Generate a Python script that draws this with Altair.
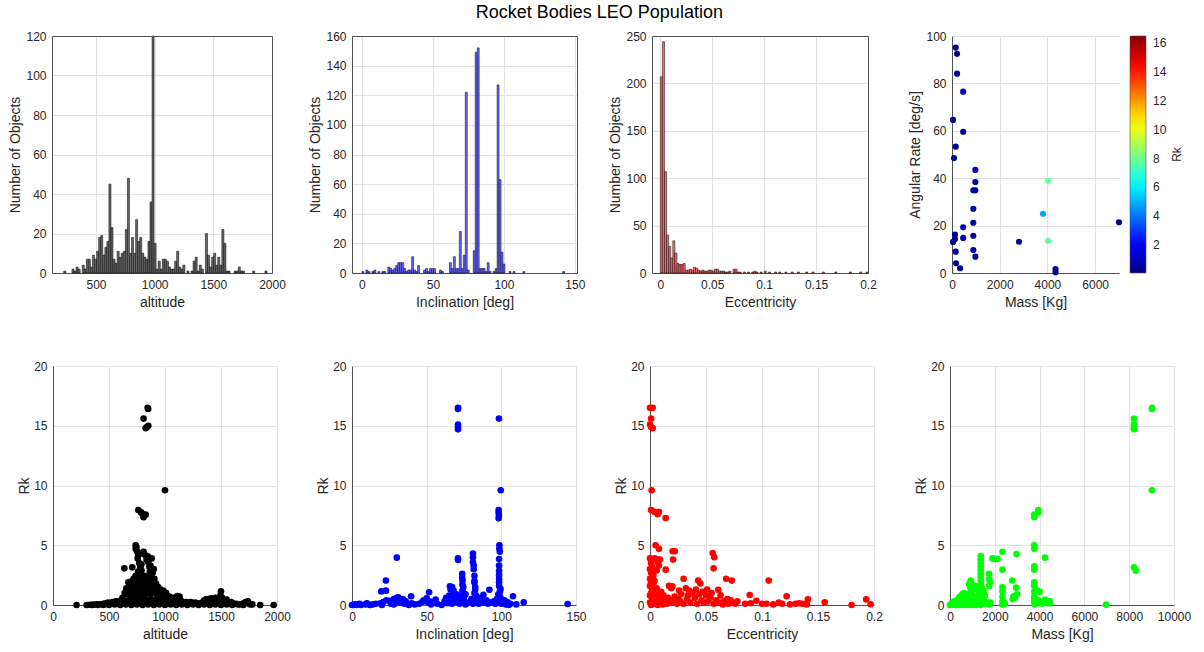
import altair as alt
import pandas as pd

FONT = "Liberation Sans"
TXT = "#262626"
GRID = "#e3e3e3"
AXC = "#505050"

TITLE = "Rocket Bodies LEO Population"

# ---------------- histogram data (bin structure + counts) ----
ALT_FIRST_EDGE = 225.0
ALT_BIN_WIDTH = 17.5
ALT_COUNTS = [1, 0, 0, 0, 2, 1, 3, 2, 0, 4, 2, 7, 7, 3, 9, 7, 11, 18, 19, 9,
              13, 16, 45, 23, 7, 5, 11, 8, 10, 11, 22, 48, 10, 18, 10, 27, 16, 18, 10, 8,
              7, 16, 36, 120, 15, 2, 6, 2, 7, 7, 6, 3, 2, 2, 6, 11, 3, 2, 4, 0,
              1, 0, 1, 6, 8, 1, 4, 2, 0, 20, 9, 3, 8, 10, 4, 8, 4, 22, 15, 1,
              1, 0, 0, 1, 1, 3, 1, 1, 0, 0, 0, 0, 1, 0, 0, 0, 0, 0, 1]

INC_FIRST_EDGE = 0.0
INC_BIN_WIDTH = 1.4
INC_COUNTS = [1, 0, 2, 1, 0, 1, 2, 0, 1, 0, 1, 1, 0,
              4, 3, 2, 3, 5, 7, 7, 7, 3, 1, 2, 2, 11, 2, 1, 5, 0, 0, 2, 3, 1, 3, 3, 3, 0, 0, 2, 1, 0, 0, 0,
              7, 3, 11, 3, 3, 28, 3, 12, 122, 2, 0, 0, 15, 149, 152, 3, 3, 3, 1, 7, 1, 0, 1, 3,
              127, 63, 14, 6, 0, 0, 1, 0, 1,
              0, 0, 0, 0, 1, 0, 0, 0, 0, 0, 0, 0, 0, 0, 0, 0, 0, 0, 0, 0, 0, 0, 0, 0, 1, 0, 0, 0, 0, 0, 0]

ECC_FIRST_EDGE = 0.0
ECC_BIN_WIDTH = 0.002
ECC_COUNTS = [207, 244, 107, 40, 28, 16, 34, 21, 10, 9, 9, 10, 3, 3, 4, 3, 6, 5, 3, 2,
              3, 2, 2, 3, 3, 2, 4, 4, 2, 2, 2, 1, 1, 2, 0, 4, 4, 1, 1, 0,
              1, 0, 1, 0, 1, 2, 1, 0, 1, 0, 2, 0, 1, 0, 0, 1, 0, 1, 0, 0,
              1, 0, 0, 1, 0, 0, 1, 0, 0, 0, 1, 0, 0, 1, 0, 0, 0, 0, 1, 0,
              0, 0, 0, 0, 1, 0, 0, 0, 0, 0, 0, 1, 0, 0, 0, 0, 1, 0, 0, 1]

# ---------------- top-right scatter: mass vs angular rate, colored by Rk ------
MASS_TOP = [157, 213, 213, 468, 43, 468, 157, 85, 979, 979, 894, 979, 894, 894, 468, 128,
            894, 468, 128, 43, 894, 157, 979, 170, 340, 2808, 4028, 4028, 3815, 7000, 4340, 4340]
RATE_TOP = [95.1, 92.5, 84.1, 76.5, 64.6, 59.6, 53.3, 48.5, 43.5, 38.4, 34.9, 34.9, 27.1, 21.2, 19.3, 16.2,
            15.7, 14.8, 14.3, 13.1, 9.7, 9.0, 6.9, 4.1, 2.0, 13.2, 39.0, 13.6, 25.0, 21.4, 1.6, 0.3]
RK_TOP = [0.3, 0.3, 0.3, 1.3, 0.2, 0.6, 0.4, 0.3, 0.9, 0.5, 0.5, 0.5, 0.5, 0.5, 1.0, 0.6,
          0.5, 0.9, 0.4, 0.3, 0.5, 0.4, 0.6, 0.4, 0.5, 0.5, 7.9, 7.8, 4.8, 0.06, 0.3, 0.3]

RK_MIN = 0.06
RK_MAX = 16.5
JET_FRACTIONS = [0.0, 0.125, 0.375, 0.625, 0.875, 1.0]
JET_COLORS = ["#00007f", "#0000ff", "#00ffff", "#ffff00", "#ff0000", "#7f0000"]
RK_TICKS = [2, 4, 6, 8, 10, 12, 14, 16]

# ---------------- bottom row: Rk against each parameter ------------------------
ALT_POINTS = [
    (845, 16.5), (850, 16.4), (809, 15.6), (827, 14.8), (851, 15.0), (838, 14.9), (1000, 9.6),
    (762, 7.95), (786, 7.75), (827, 7.56), (809, 7.34), (800, 7.6),
    (738, 5.0), (738, 4.7), (809, 4.46), (756, 3.9), (845, 4.07), (881, 3.9), (760, 4.2), (770, 3.5), (790, 3.4),
    (745, 4.85), (750, 4.5), (785, 4.3), (820, 4.2), (835, 3.8), (850, 3.6), (860, 3.2), (865, 2.8), (870, 2.5),
    (780, 3.2), (790, 2.9), (760, 2.8), (775, 2.6),
    (637, 3.07), (708, 3.15), (780, 3.0), (899, 3.0), (673, 1.9), (738, 2.45), (818, 2.45), (870, 3.3),
    (890, 2.7), (905, 2.2), (920, 1.8),
    (620, 0.6), (640, 1.0), (655, 1.4), (665, 0.9), (680, 1.2), (690, 1.6), (700, 0.8), (705, 2.0),
    (715, 1.3), (720, 2.2), (730, 1.0), (735, 1.7), (745, 0.7), (750, 1.4), (755, 2.0), (765, 1.1),
    (770, 2.4), (780, 1.6), (785, 0.9), (795, 2.1), (800, 1.3), (810, 1.8), (815, 0.8), (825, 1.5),
    (830, 2.2), (840, 1.0), (850, 1.7), (860, 1.3), (865, 2.0), (875, 0.9), (880, 1.6), (890, 1.2),
    (900, 1.8), (910, 1.0), (920, 1.4), (930, 0.8), (940, 1.5), (950, 1.1), (960, 1.3), (975, 0.9),
    (985, 1.2), (1000, 0.8), (1010, 1.0), (1025, 0.6), (1040, 0.7), (1060, 0.5), (1080, 0.6), (1100, 0.4),
    (1110, 0.75), (1130, 0.7),
    (210, 0.0), (300, 0.0), (330, 0.02), (360, 0.03), (390, 0.05), (420, 0.06), (450, 0.1), (470, 0.15),
    (490, 0.2), (510, 0.1), (530, 0.25), (550, 0.15), (560, 0.3), (580, 0.2), (600, 0.35), (610, 0.1),
    (630, 0.3), (650, 0.2), (670, 0.4), (690, 0.3), (710, 0.45), (730, 0.2), (750, 0.4), (770, 0.3),
    (790, 0.5), (810, 0.2), (830, 0.45), (850, 0.3), (870, 0.5), (890, 0.2), (910, 0.4), (930, 0.3),
    (950, 0.5), (970, 0.2), (990, 0.4), (1010, 0.3), (1030, 0.35), (1050, 0.2), (1070, 0.3), (1090, 0.15),
    (1110, 0.25), (1130, 0.2), (1150, 0.3), (1170, 0.15), (1190, 0.25), (1210, 0.2), (1230, 0.25),
    (1250, 0.15), (1270, 0.2), (1290, 0.1), (1310, 0.15), (1330, 0.2), (1350, 0.4), (1370, 0.5),
    (1390, 0.3), (1410, 0.55), (1430, 0.4), (1450, 0.6), (1460, 0.3), (1480, 0.5), (1495, 0.8),
    (1500, 1.15), (1510, 0.6), (1520, 0.4), (1535, 0.3), (1550, 0.45), (1570, 0.2), (1590, 0.25),
    (1610, 0.15), (1640, 0.1), (1670, 0.05), (1700, 0.15), (1720, 0.25), (1740, 0.3), (1760, 0.05),
    (1780, 0.05), (1850, 0.0), (1970, 0.0),
    (350, 0.0), (400, 0.0), (450, 0.0), (500, 0.0), (550, 0.05), (600, 0.0), (650, 0.05), (700, 0.0),
    (750, 0.05), (800, 0.0), (850, 0.05), (900, 0.0), (950, 0.05), (1000, 0.0), (1050, 0.05), (1100, 0.0),
    (1150, 0.05), (1200, 0.0), (1250, 0.05), (1300, 0.0), (1350, 0.05), (1400, 0.0), (1450, 0.05),
    (1500, 0.0), (1550, 0.05), (1600, 0.0), (1650, 0.05), (1700, 0.0),
]

INC_POINTS = [
    (71, 16.5), (71, 16.4), (71, 15.1), (71, 14.9), (71, 14.7), (98.4, 15.6), (99.6, 9.6),
    (98.2, 7.95), (98.2, 7.75), (98.4, 7.5), (98.2, 7.25), (98.7, 5.0), (98.7, 4.7), (99, 4.46),
    (30, 3.96), (71, 3.9), (71, 3.77),
    (81, 4.3), (81, 4.0), (81, 3.6), (81.5, 3.3), (81.5, 3.0), (82, 2.45), (82, 2.0), (82, 1.9),
    (82.5, 1.5), (82.5, 1.3), (82, 1.0), (83, 0.8),
    (73.8, 2.6), (73.8, 2.3), (74, 2.04), (74, 1.7), (74.5, 1.48), (74, 1.2), (74, 0.9),
    (98.5, 3.85), (98.5, 3.3), (98.5, 2.87), (98.5, 2.5), (98.5, 2.18), (98.5, 1.9), (98.5, 1.6),
    (99.5, 1.34), (99, 1.1), (98, 0.9), (99, 0.7), (100, 0.5),
    (22.7, 2.04), (19.6, 1.14), (22.7, 1.2), (51.6, 1.06), (92, 1.28), (107.8, 0.73), (115, 0.22),
    (144.4, 0.08), (39.6, 0.73), (65.6, 1.56), (65, 0.78), (66, 1.3), (31, 0.64), (28, 0.5), (33, 0.45),
    (88, 0.85), (86, 0.6), (102, 0.4), (104, 0.25), (106, 0.1),
    (0, 0.0), (1, 0.0), (2, 0.05), (3, 0.0), (5, 0.1), (6, 0.0), (9, 0.05), (10, 0.15), (12, 0.0),
    (14, 0.05), (16, 0.1), (19, 0.15), (20, 0.0), (21, 0.25), (23, 0.4), (25, 0.35), (26, 0.1),
    (27, 0.2), (28, 0.05), (29, 0.3), (30, 0.6), (32, 0.2), (34, 0.5), (35, 0.1), (36, 0.3), (38, 0.0),
    (40, 0.15), (42, 0.05), (45, 0.1), (47, 0.25), (48, 0.4), (50, 0.55), (51, 0.2), (52, 0.3),
    (53, 0.05), (55, 0.2), (56, 0.45), (57, 0.1), (60, 0.0), (62, 0.3), (63, 0.6), (64, 0.15),
    (65, 0.4), (67, 0.1), (68, 0.8), (69, 0.5), (70, 0.25), (71, 0.6), (72, 0.1), (73, 0.4), (75, 0.3),
    (76, 0.05), (78, 0.2), (80, 0.5), (81, 0.1), (82, 0.3), (83, 0.5), (84, 0.15), (85, 0.1), (86, 0.3),
    (88, 0.2), (90, 0.4), (91, 0.1), (93, 0.2), (95, 0.3), (96, 0.1), (97, 0.5), (98, 0.2), (99, 0.35),
    (100, 0.1), (101, 0.3), (103, 0.05), (105, 0.0), (110, 0.05),
    (67, 1.5), (68, 1.2), (70, 0.9), (72, 0.7), (76, 0.9), (75, 0.6),
]

ECC_POINTS = [
    (0.0, 16.5), (0.0024, 16.5), (0.001, 15.6), (0.0, 15.1), (0.0024, 14.8), (0.001, 14.9), (0.0015, 9.6),
    (0.001, 7.95), (0.004, 7.8), (0.0068, 7.6), (0.008, 7.8), (0.014, 7.28), (0.005, 5.0), (0.008, 4.7),
    (0.0202, 4.5), (0.0222, 4.5), (0.0206, 3.8),
    (0.056, 4.35), (0.0574, 4.0), (0.0568, 3.07), (0.03, 2.2), (0.043, 2.04), (0.045, 1.8), (0.068, 2.2),
    (0.073, 2.04), (0.106, 2.04), (0.089, 0.84), (0.122, 0.73), (0.141, 0.47), (0.156, 0.22), (0.18, 0.0),
    (0.193, 0.47), (0.197, 0.06), (0.061, 1.28), (0.014, 2.96), (0.02, 1.56),
    (0.0, 3.9), (0.001, 3.5), (0.002, 3.2), (0.003, 3.8), (0.004, 3.9), (0.006, 3.85), (0.007, 3.6),
    (0.008, 3.3), (0.009, 3.8), (0.0, 3.0), (0.001, 2.7), (0.002, 2.4), (0.0, 2.2), (0.001, 1.9),
    (0.003, 2.5), (0.004, 2.0), (0.0, 1.6), (0.002, 1.3), (0.001, 1.0), (0.003, 1.7), (0.0, 0.8),
    (0.004, 1.2), (0.005, 0.9), (0.006, 1.4), (0.002, 0.5), (0.008, 0.7), (0.01, 1.1), (0.011, 0.5),
    (0.012, 0.8), (0.0, 0.2), (0.001, 0.0), (0.003, 0.1), (0.005, 0.3), (0.007, 0.0), (0.009, 0.2),
    (0.011, 0.05), (0.013, 0.3), (0.015, 0.1), (0.016, 0.6), (0.018, 0.4), (0.02, 0.2), (0.022, 0.7),
    (0.024, 0.1), (0.025, 0.5), (0.027, 0.3), (0.028, 0.9), (0.03, 0.1), (0.032, 1.4), (0.033, 0.5),
    (0.035, 1.2), (0.036, 0.2), (0.038, 1.0), (0.04, 0.6), (0.041, 1.3), (0.042, 0.1), (0.044, 0.9),
    (0.046, 0.4), (0.047, 1.1), (0.048, 0.2), (0.05, 0.8), (0.051, 1.3), (0.052, 0.3), (0.054, 0.6),
    (0.055, 1.0), (0.057, 0.1), (0.059, 0.4), (0.062, 0.2), (0.063, 0.8), (0.065, 0.05), (0.066, 0.3),
    (0.069, 0.5), (0.07, 0.1), (0.072, 0.4), (0.074, 0.2), (0.076, 0.1), (0.078, 0.3), (0.085, 0.1),
    (0.09, 0.15), (0.095, 0.35), (0.1, 0.1), (0.104, 0.1), (0.11, 0.05), (0.115, 0.2), (0.118, 0.1),
    (0.125, 0.05), (0.13, 0.1), (0.133, 0.15), (0.136, 0.1), (0.14, 0.05), (0.017, 1.6), (0.019, 1.4),
    (0.026, 1.2), (0.034, 0.8), (0.006, 2.9),
]

MASS_POINTS = [
    (9018, 16.5), (9018, 16.4), (8211, 15.6), (8211, 15.1), (8211, 14.8), (8211, 14.7), (9018, 9.6),
    (8211, 3.15), (8300, 2.87), (6972, 0.03),
    (3762, 7.56), (3762, 7.34), (3941, 7.95), (3941, 7.75), (3762, 5.0), (3762, 4.7), (3762, 3.24),
    (3762, 2.96), (3762, 1.9), (3762, 1.6), (3762, 1.12), (3900, 1.2), (3762, 0.7), (3762, 0.45),
    (3762, 0.2), (3900, 0.2), (3800, 0.05), (3950, 0.4), (4240, 3.96), (4240, 0.45), (4464, 0.3),
    (4350, 0.15), (4464, 0.15),
    (2344, 4.46), (2344, 2.96), (2344, 1.48), (2344, 1.12), (2344, 0.7), (2344, 0.3), (2344, 0.05),
    (2400, 0.2), (1896, 3.9), (2000, 3.85), (2120, 3.85), (2971, 4.27), (2956, 1.45), (2837, 0.73),
    (2800, 0.5), (2777, 2.04), (1747, 2.6), (1747, 2.18), (1790, 1.9), (1747, 1.6),
    (1373, 4.1), (1373, 3.8), (1373, 3.5), (1373, 3.2), (1373, 2.9), (1373, 2.6), (1373, 2.3),
    (1373, 2.0), (1373, 1.7), (1373, 1.4), (1373, 1.1), (1373, 0.8), (1373, 0.5), (1373, 0.2),
    (1373, 0.0), (1450, 0.9), (1500, 0.6), (1550, 0.3), (1600, 0.1), (1450, 0.3), (1420, 1.4),
    (1500, 1.2), (1560, 0.8), (1650, 0.2),
    (926, 2.04), (850, 1.76), (950, 1.8), (900, 1.5), (1000, 1.6), (1100, 1.6), (1200, 1.5),
    (1250, 1.2), (1000, 1.3), (880, 1.0), (960, 0.9), (1050, 0.7), (1120, 0.6), (1220, 0.4), (1280, 0.8),
    (0, 0.0), (50, 0.1), (100, 0.2), (150, 0.05), (200, 0.3), (250, 0.15), (300, 0.4), (350, 0.2),
    (400, 0.6), (420, 0.3), (450, 0.7), (500, 0.5), (520, 0.2), (550, 0.9), (580, 0.6), (600, 0.3),
    (620, 1.0), (650, 0.8), (680, 0.5), (700, 0.2), (720, 0.9), (750, 0.6), (780, 0.3), (800, 0.1),
    (820, 0.8), (850, 0.4), (900, 0.2), (950, 0.5), (1000, 0.0), (1050, 0.3), (1100, 0.1), (1150, 0.3),
    (1200, 0.05), (1250, 0.2), (1300, 0.1), (100, 0.0), (250, 0.0), (400, 0.0), (550, 0.0), (700, 0.0),
    (850, 0.0), (1150, 0.0), (1750, 0.05), (1800, 0.2), (2450, 0.1), (2900, 0.6), (3000, 0.9),
    (4000, 1.1), (4000, 0.3), (4100, 0.1),
]

LABEL_EXPR = "'' + datum.value"


# ---------------- helpers ----------------
def hist_frame(first, width, counts):
    rows = []
    for i, c in enumerate(counts):
        if c > 0:
            rows.append({"x0": first + i * width, "x1": first + (i + 1) * width, "n": c})
    return pd.DataFrame(rows)


def yaxis_top(title, values):
    return alt.Axis(title=title, values=values, minExtent=26, maxExtent=26, titlePadding=4,
                    labelExpr=LABEL_EXPR)


def yaxis_bottom():
    return alt.Axis(title="Rk", values=[0, 5, 10, 15, 20], minExtent=18, maxExtent=18, titlePadding=4,
                    labelExpr=LABEL_EXPR)


def xaxis(title, values):
    return alt.Axis(title=title, values=values, labelExpr=LABEL_EXPR)


def frame_axis(orient):
    # plain box edge (MATLAB "box on"): domain line only, drawn above the grid
    return alt.Axis(orient=orient, labels=False, grid=False, ticks=False, title=None, domain=True,
                    domainColor=AXC, minExtent=0, maxExtent=0, zindex=1)


def histogram(df, xdom, xticks, xtitle, ydom, yticks, fill, width):
    xs = alt.Scale(domain=xdom, nice=False, zero=False)
    ys = alt.Scale(domain=ydom, nice=False)
    bars = alt.Chart(df).mark_rect(fill=fill, stroke="#000000", strokeWidth=0.5).encode(
        x=alt.X("x0:Q", scale=xs, axis=xaxis(xtitle, xticks)),
        x2="x1:Q",
        y=alt.Y("n:Q", scale=ys, axis=yaxis_top("Number of Objects", yticks)),
        y2=alt.datum(0),
    )
    box = alt.Chart(df).mark_rect(opacity=0).encode(
        x=alt.X("x0:Q", scale=xs, axis=frame_axis("top")),
        x2="x1:Q",
        y=alt.Y("n:Q", scale=ys, axis=frame_axis("right")),
        y2=alt.datum(0),
    )
    return alt.layer(bars, box).resolve_axis(x="independent", y="independent").properties(
        width=width, height=237)


def rk_scatter(points, xdom, xticks, xtitle, color):
    df = pd.DataFrame(points, columns=["x", "rk"])
    return alt.Chart(df).mark_circle(size=44, color=color, opacity=1).encode(
        x=alt.X("x:Q", scale=alt.Scale(domain=xdom, nice=False, zero=False), axis=xaxis(xtitle, xticks)),
        y=alt.Y("rk:Q", scale=alt.Scale(domain=[0, 20], nice=False), axis=yaxis_bottom()),
    ).properties(width=224, height=239)


def spacer(w):
    return alt.Chart(pd.DataFrame({"v": [0]})).mark_point(opacity=0).encode(
        x=alt.value(0), y=alt.value(0)
    ).properties(width=w, height=10)


# ---------------- top row ----------------
h1 = histogram(hist_frame(ALT_FIRST_EDGE, ALT_BIN_WIDTH, ALT_COUNTS), [125, 2000], [500, 1000, 1500, 2000],
               "altitude", [0, 120], [0, 20, 40, 60, 80, 100, 120], "#666666", 220)
h2 = histogram(hist_frame(INC_FIRST_EDGE, INC_BIN_WIDTH, INC_COUNTS), [-7, 151.5], [0, 50, 100, 150],
               "Inclination [deg]", [0, 160], [0, 20, 40, 60, 80, 100, 120, 140, 160], "#6666ff", 225)
h3 = histogram(hist_frame(ECC_FIRST_EDGE, ECC_BIN_WIDTH, ECC_COUNTS), [-0.008, 0.2], [0, 0.05, 0.1, 0.15, 0.2],
               "Eccentricity", [0, 250], [0, 50, 100, 150, 200, 250], "#ff6666", 216)

jet_domain = [RK_MIN + f * (RK_MAX - RK_MIN) for f in JET_FRACTIONS]
df4 = pd.DataFrame({"mass": MASS_TOP, "rate": RATE_TOP, "rk": RK_TOP})
mass_scale = alt.Scale(domain=[0, 7000], nice=False)
rate_scale = alt.Scale(domain=[0, 100], nice=False)
s4_points = alt.Chart(df4).mark_circle(size=38, opacity=1).encode(
    x=alt.X("mass:Q", scale=mass_scale, axis=xaxis("Mass [Kg]", [0, 2000, 4000, 6000])),
    y=alt.Y("rate:Q", scale=rate_scale, axis=yaxis_top("Angular Rate [deg/s]", [0, 20, 40, 60, 80, 100])),
    color=alt.Color("rk:Q",
                    scale=alt.Scale(domain=jet_domain, range=JET_COLORS, interpolate="rgb"),
                    legend=alt.Legend(title=None, orient="none", legendX=1078, legendY=0,
                                      direction="vertical", gradientLength=237, gradientThickness=16,
                                      values=RK_TICKS, labelFont=FONT, labelFontSize=12,
                                      labelColor=TXT, gradientStrokeColor=AXC, gradientStrokeWidth=0.6,
                                      labelOffset=7)),
)
# colour-bar caption "Rk" (MATLAB colorbar label, reading bottom-to-top)
s4_caption = alt.Chart(df4).mark_circle(opacity=0).encode(
    x=alt.X("mass:Q", scale=mass_scale, axis=None),
    y=alt.Y("rate:Q", scale=rate_scale,
            axis=alt.Axis(orient="right", title="Rk", labels=False, grid=False, ticks=False, domain=False,
                          titleAngle=270, titleX=57, titleY=118, titleAlign="center",
                          titleBaseline="middle", titleFontSize=12, minExtent=0, maxExtent=0)),
)
s4 = alt.layer(s4_points, s4_caption).resolve_axis(x="independent", y="independent").properties(
    width=167, height=237)

top = alt.hconcat(h1, spacer(80), h2, spacer(75), h3, spacer(84), s4, spacing=0, bounds="flush")

# ---------------- bottom row ----------------
b1 = rk_scatter(ALT_POINTS, [0, 2000], [0, 500, 1000, 1500, 2000], "altitude", "#000000")
b2 = rk_scatter(INC_POINTS, [0, 150], [0, 50, 100, 150], "Inclination [deg]", "#0000ff")
b3 = rk_scatter(ECC_POINTS, [0, 0.2], [0, 0.05, 0.1, 0.15, 0.2], "Eccentricity", "#ff0000")
b4 = rk_scatter(MASS_POINTS, [0, 10000], [0, 2000, 4000, 6000, 8000, 10000], "Mass [Kg]", "#00ff00")

bottom = alt.hconcat(spacer(1), b1, spacer(75), b2, spacer(74), b3, spacer(76), b4, spacing=0, bounds="flush")

chart = alt.vconcat(top, bottom, spacing=51).properties(
    title=alt.TitleParams(TITLE, font=FONT, fontSize=18, fontWeight="normal", color="#000000",
                          anchor="middle", offset=8),
    padding={"left": 8, "top": 4, "right": 5, "bottom": 5},
    background="white",
).configure_view(stroke=None).configure_axis(
    labelFont=FONT, titleFont=FONT, labelFontSize=12, titleFontSize=14, labelColor=TXT, titleColor=TXT,
    titleFontWeight="normal", gridColor=GRID, gridWidth=1, domainColor=AXC, domainWidth=1,
    ticks=False, labelFlush=False, labelOverlap=False,
).configure_axisX(labelPadding=6, minExtent=18, maxExtent=18, titlePadding=4).configure_axisY(labelPadding=6)

chart.save("out.html", embed_options={"renderer": "svg", "actions": False})
